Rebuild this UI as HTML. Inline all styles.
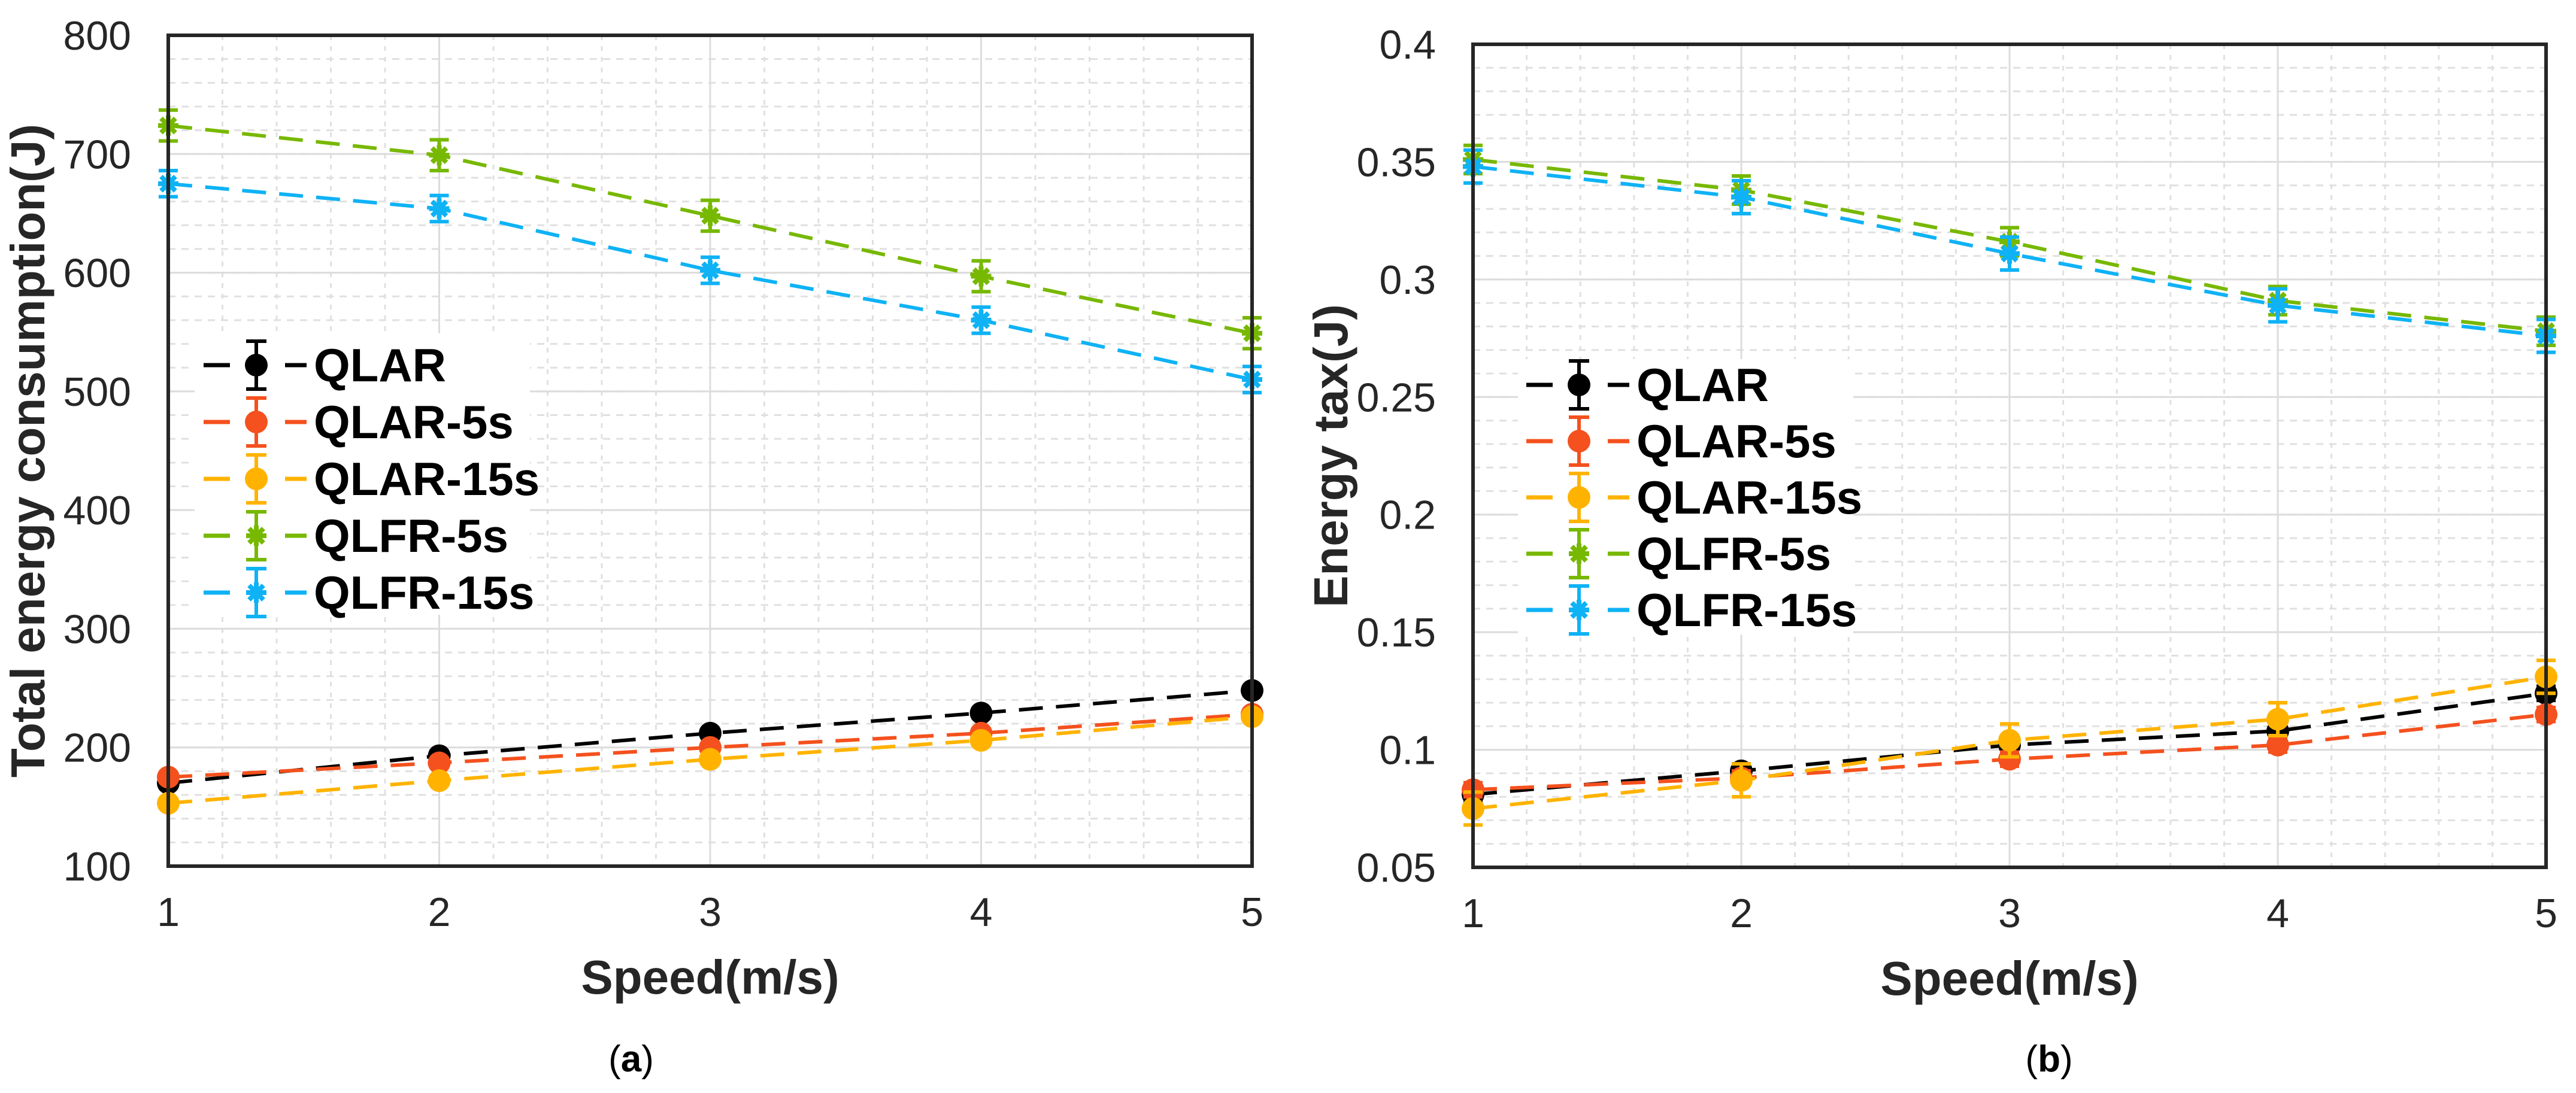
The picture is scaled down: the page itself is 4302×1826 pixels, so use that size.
<!DOCTYPE html>
<html><head><meta charset="utf-8"><style>
html,body{margin:0;padding:0;background:#fff;}
svg{display:block;}
text{font-family:"Liberation Sans",sans-serif;}
</style></head><body>
<svg id="fig" width="4302" height="1826" xmlns="http://www.w3.org/2000/svg"></svg>
<script>
const xCats = [1,2,3,4,5];
const seriesNames = ["QLAR","QLAR-5s","QLAR-15s","QLFR-5s","QLFR-15s"];
const seriesColors = ["#000000","#f4511e","#ffb300","#77b800","#0fb2f5"];
const seriesMarkers = ["circle","circle","circle","star","star"];
// Panel (a) total energy consumption
const a_QLAR = [170,193,212,229,248];
const a_QLAR5 = [175,187,200,212,228];
const a_QLAR15 = [153,172,190,206,226];
const a_QLFR5 = [724,699,648,597,549];
const a_QLFR15 = [675,654,602,560,510];
const a_err = [4,4,4,13,11];
const a_yTicks = [100,200,300,400,500,600,700,800];
// Panel (b) energy tax
const b_QLAR = [0.081,0.091,0.102,0.108,0.124];
const b_QLAR5 = [0.083,0.088,0.096,0.102,0.115];
const b_QLAR15 = [0.075,0.087,0.104,0.113,0.131];
const b_QLFR5 = [0.351,0.338,0.316,0.291,0.278];
const b_QLFR15 = [0.348,0.335,0.311,0.289,0.276];
const b_err = [0.003,0.003,0.007,0.006,0.007];
const b_yTicks = [0.05,0.1,0.15,0.2,0.25,0.3,0.35,0.4];
const xTicks = [1,2,3,4,5];

const NS="http://www.w3.org/2000/svg";
const svg=document.getElementById('fig');
function mk(tag,attrs,parent){const e=document.createElementNS(NS,tag);for(const k in attrs)e.setAttribute(k,attrs[k]);(parent||svg).appendChild(e);return e;}

function starPath(cx,cy,r){
  let d="";
  for(let i=0;i<4;i++){const a=i*Math.PI/4;d+=`M${cx-r*Math.cos(a)},${cy-r*Math.sin(a)}L${cx+r*Math.cos(a)},${cy+r*Math.sin(a)}`;}
  return d;
}
function marker(g,type,cx,cy,col){
  if(type==="circle"){const c=mk('circle',{cx:cx,cy:cy,r:19,fill:col},g);return c;}
  const p=mk('path',{d:starPath(cx,cy,17),stroke:col,'stroke-width':8,fill:'none'},g);
  mk('circle',{cx:cx,cy:cy,r:9,fill:col},g);
  return p;
}

function panel(cfg){
  const {L,R,T,B,ymin,ymax,yTicks,minorY,series,err,fmt,ylabel,legend,caption,capX,id}=cfg;
  const g=mk('g',{});
  
  
  const xs=v=>L+(v-1)/4*(R-L);
  const ys=v=>B-(v-ymin)/(ymax-ymin)*(B-T);
  const grid=mk('g',{},g);
  
  
  for(let v=1;v<5.001;v+=0.2){const x=xs(v);mk('line',{x1:x,x2:x,y1:T,y2:B,stroke:'#e0e0e0','stroke-width':3,'stroke-dasharray':'8 10'},grid);}
  for(let v=ymin;v<=ymax+1e-9;v+=minorY){const y=ys(v);mk('line',{x1:L,x2:R,y1:y,y2:y,stroke:'#e0e0e0','stroke-width':3,'stroke-dasharray':'12 10'},grid);}
  xTicks.forEach(v=>{const x=xs(v);mk('line',{x1:x,x2:x,y1:T,y2:B,stroke:'#dcdcdc','stroke-width':3},grid);});
  yTicks.forEach(v=>{const y=ys(v);mk('line',{x1:L,x2:R,y1:y,y2:y,stroke:'#dcdcdc','stroke-width':3},grid);});
  series.forEach((vals,si)=>{
    const col=seriesColors[si];
    const sg=mk('g',{},g);
    
    
    const pts=vals.map((v,i)=>xs(xCats[i])+','+ys(v)).join(' ');
    mk('polyline',{points:pts,fill:'none',stroke:col,'stroke-width':6,'stroke-dasharray':'40 22'},sg);
    vals.forEach((v,i)=>{
      const x=xs(xCats[i]);const e=err[si];
      const y1=ys(v+e),y2=ys(v-e);
      const eb=mk('path',{d:`M${x},${y1}L${x},${y2}M${x-16},${y1}L${x+16},${y1}M${x-16},${y2}L${x+16},${y2}`,stroke:col,'stroke-width':6,fill:'none'},sg);
      
      
      const m=marker(sg,seriesMarkers[si],x,ys(v),col);
      
      
    });
  });
  const lg=mk('g',{},g);
  
  
  mk('rect',{x:legend.x,y:legend.y,width:legend.w,height:legend.h,fill:'#fff'},lg);
  seriesNames.forEach((n,i)=>{
    const cy=legend.y0+i*legend.dy, mx=legend.mx, col=seriesColors[i];
    const eg=mk('g',{},lg);
    
    
    mk('line',{x1:mx-88,x2:mx-44,y1:cy,y2:cy,stroke:col,'stroke-width':7},eg);
    mk('line',{x1:mx+48,x2:mx+84,y1:cy,y2:cy,stroke:col,'stroke-width':7},eg);
    mk('path',{d:`M${mx},${cy-40}L${mx},${cy+40}M${mx-17},${cy-40}L${mx+17},${cy-40}M${mx-17},${cy+40}L${mx+17},${cy+40}`,stroke:col,'stroke-width':6,fill:'none'},eg);
    marker(eg,seriesMarkers[i],mx,cy,col);
    const t=mk('text',{x:mx+96,y:cy+27,'font-size':78,'font-weight':'bold',fill:'#000'},eg);t.textContent=n;
  });
  const box=mk('rect',{x:L,y:T,width:R-L,height:B-T,fill:'none',stroke:'#262626','stroke-width':6},g);
  
  
  xTicks.forEach(v=>{const t=mk('text',{x:xs(v),y:B+100,'font-size':68,'text-anchor':'middle',fill:'#262626'},g);t.textContent=v;
    });
  yTicks.forEach(v=>{const t=mk('text',{x:L-62,y:ys(v)+24,'font-size':68,'text-anchor':'end',fill:'#262626'},g);t.textContent=fmt(v);
    });
  const xl=mk('text',{x:(L+R)/2,y:B+213,'font-size':80,'font-weight':'bold','text-anchor':'middle',fill:'#262626'},g);
  xl.textContent='Speed(m/s)';
  
  const yl=mk('text',{x:0,y:0,'font-size':80,'font-weight':'bold','text-anchor':'middle',fill:'#262626',transform:`translate(${cfg.ylx},${(T+B)/2}) rotate(-90)`},g);
  yl.textContent=ylabel;
  
  const cap=mk('text',{x:capX,y:1790,'font-size':62,'text-anchor':'middle',fill:'#000','font-family':'"Liberation Serif",serif'},g);
  cap.innerHTML=caption;
  
}

panel({id:'a',L:281,R:2091,T:59,B:1447,ymin:100,ymax:800,yTicks:a_yTicks,minorY:20,
  series:[a_QLAR,a_QLAR5,a_QLAR15,a_QLFR5,a_QLFR15],err:a_err,fmt:v=>String(v),
  ylabel:'Total energy consumption(J)',ylx:74,capX:1054,caption:'(<tspan font-weight="bold">a</tspan>)',
  legend:{x:325,y:557,w:560,h:470,y0:610,dy:95,mx:428}});
panel({id:'b',L:2460,R:4252,T:74,B:1449,ymin:0.05,ymax:0.4,yTicks:b_yTicks,minorY:0.01,
  series:[b_QLAR,b_QLAR5,b_QLAR15,b_QLFR5,b_QLFR15],err:b_err,fmt:v=>String(+v.toFixed(2)),
  ylabel:'Energy tax(J)',ylx:2250,capX:3422,caption:'(<tspan font-weight="bold">b</tspan>)',
  legend:{x:2535,y:600,w:560,h:460,y0:643,dy:94,mx:2637}});
</script>
</body></html>
